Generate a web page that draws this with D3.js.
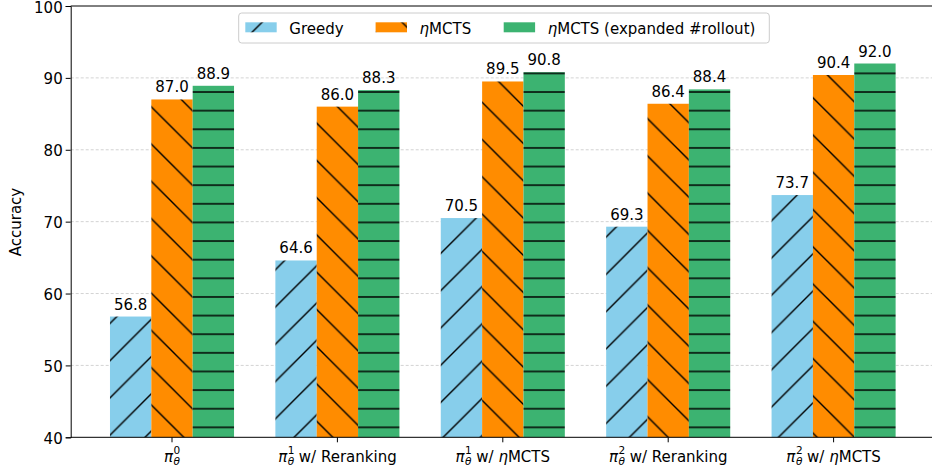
<!DOCTYPE html>
<html>
<head>
<meta charset="utf-8">
<script src="https://cdn.jsdelivr.net/npm/d3@7"></script>
<style>
  body { margin: 0; background: #fff; }
  svg { font-family: "DejaVu Sans", sans-serif; }
</style>
</head>
<body>
<script>
// data
var groups = ["g0", "g1r", "g1m", "g2r", "g2m"];
// tick label pieces: superscript, suffix (with η marks italic)
var tickSup = ["0", "1", "1", "2", "2"];
var tickRest = ["", " w/ Reranking", " w/ |η|MCTS", " w/ Reranking", " w/ |η|MCTS"];
var seriesNames = ["Greedy", "ηMCTS", "ηMCTS (expanded #rollout)"];
var greedy = [56.8, 64.6, 70.5, 69.3, 73.7];
var mcts = [87.0, 86.0, 89.5, 86.4, 90.4];
var mctsExp = [88.9, 88.3, 90.8, 88.4, 92.0];
var yTicks = [40, 50, 60, 70, 80, 90, 100];

var w = 932, h = 469;
var colors = ["#87CEEB", "#FF8C00", "#3CB371"];
var hatchP = 37.26, hatchH = 18.63;

var svg = d3.select("body").append("svg").attr("width", w).attr("height", h);

// hatch patterns, anchored in page space like matplotlib does
var defs = svg.append("defs");
var p0 = defs.append("pattern").attr("id", "hatch0").attr("patternUnits", "userSpaceOnUse")
  .attr("x", 23.5).attr("y", 0).attr("width", hatchP).attr("height", hatchP);
p0.append("rect").attr("width", hatchP).attr("height", hatchP).attr("fill", colors[0]);
p0.append("path").attr("d", "M0," + hatchP + "L" + hatchP + ",0M-2,2L2,-2M" + (hatchP - 2) + "," + (hatchP + 2) + "L" + (hatchP + 2) + "," + (hatchP - 2))
  .attr("stroke", "#000").attr("stroke-width", 1.4);

var p1 = defs.append("pattern").attr("id", "hatch1").attr("patternUnits", "userSpaceOnUse")
  .attr("x", 7.26).attr("y", 0).attr("width", hatchP).attr("height", hatchP);
p1.append("rect").attr("width", hatchP).attr("height", hatchP).attr("fill", colors[1]);
p1.append("path").attr("d", "M0,0L" + hatchP + "," + hatchP + "M" + (hatchP - 2) + ",-2L" + (hatchP + 2) + ",2M-2," + (hatchP - 2) + "L2," + (hatchP + 2))
  .attr("stroke", "#000").attr("stroke-width", 1.4);

var p2 = defs.append("pattern").attr("id", "hatch2").attr("patternUnits", "userSpaceOnUse")
  .attr("x", 0).attr("y", 17.5).attr("width", 20).attr("height", hatchH);
p2.append("rect").attr("width", 20).attr("height", hatchH).attr("fill", colors[2]);
p2.append("path").attr("d", "M-1,0H21M-1," + hatchH + "H21").attr("stroke", "#000").attr("stroke-width", 1.4);

// scales
var x0 = d3.scaleBand().domain(groups).range([70.7, 934.9]).paddingInner(0.25).paddingOuter(0.2375);
var x1 = d3.scaleBand().domain([0, 1, 2]).range([0, x0.bandwidth()]);
var y = d3.scaleLinear().domain([40, 100]).range([437.3, 6]);

// grid
svg.append("g").selectAll("line").data(yTicks.slice(1, -1)).enter().append("line")
  .attr("x1", 70.7).attr("x2", 934.9)
  .attr("y1", function(d) { return y(d); }).attr("y2", function(d) { return y(d); })
  .attr("stroke", "#b0b0b0").attr("stroke-opacity", 0.7).attr("stroke-width", 0.8)
  .attr("stroke-dasharray", "3,2");

// bars
var allSeries = [greedy, mcts, mctsExp];
allSeries.forEach(function(vals, si) {
  var g = svg.append("g").attr("class", "series" + si);
  g.selectAll("rect").data(vals).enter().append("rect")
    .attr("x", function(d, i) { return x0(groups[i]) + x1(si); })
    .attr("y", function(d) { return y(d); })
    .attr("width", x1.bandwidth())
    .attr("height", function(d) { return y(40) - y(d); })
    .attr("fill", "url(#hatch" + si + ")");
  g.selectAll("text").data(vals).enter().append("text")
    .attr("x", function(d, i) { return x0(groups[i]) + x1(si) + x1.bandwidth() / 2; })
    .attr("y", function(d) { return y(d) - 7; })
    .attr("text-anchor", "middle").attr("font-size", 15).attr("fill", "#000")
    .text(function(d) { return d.toFixed(1); });
});

// axes
var yAxis = d3.axisLeft(y).tickValues(yTicks).tickSize(5).tickPadding(3);
var ya = svg.append("g").attr("transform", "translate(70.7,0)").call(yAxis);
ya.selectAll("text").attr("font-size", 15).attr("font-family", "DejaVu Sans").attr("fill", "#000").attr("dy", "0.4em");

var xAxis = d3.axisBottom(x0).tickSize(5).tickFormat("");
var xa = svg.append("g").attr("transform", "translate(0,437.3)").call(xAxis);
xa.select(".domain").remove();
svg.selectAll(".domain").attr("stroke-width", 1);
svg.selectAll(".tick line").attr("stroke", "#000").attr("stroke-width", 1);

// spines
svg.append("line").attr("x1", 70.7).attr("x2", 934.9).attr("y1", 437.3).attr("y2", 437.3).attr("stroke", "#000");
svg.append("line").attr("x1", 70.7).attr("x2", 934.9).attr("y1", 6).attr("y2", 6).attr("stroke", "#000");
svg.append("line").attr("x1", 934.9).attr("x2", 934.9).attr("y1", 6).attr("y2", 437.3).attr("stroke", "#000");

// x tick labels with math
groups.forEach(function(gname, i) {
  var t = svg.append("text").attr("x", x0(gname) + x0.bandwidth() / 2).attr("y", 462.3)
    .attr("text-anchor", "middle").attr("font-size", 15).attr("fill", "#000");
  t.append("tspan").attr("font-style", "italic").text("π");
  t.append("tspan").attr("font-size", 10.5).attr("dy", -8.5).attr("dx", 0.5).text(tickSup[i]);
  t.append("tspan").attr("font-size", 10.5).attr("font-style", "italic").attr("dy", 11).attr("dx", -6.7).text("θ");
  var parts = tickRest[i].split("|");
  parts.forEach(function(p, k) {
    var s = t.append("tspan").text(p);
    if (k === 0) s.attr("dy", -2.5);
    if (k === 1) s.attr("font-style", "italic");
  });
});

// y label
svg.append("text").attr("transform", "translate(21,222) rotate(-90)")
  .attr("text-anchor", "middle").attr("font-size", 15).attr("fill", "#000").text("Accuracy");

// legend
var leg = svg.append("g");
leg.append("rect").attr("x", 238.7).attr("y", 13).attr("width", 530.6).attr("height", 30)
  .attr("rx", 3).attr("fill", "#fff").attr("fill-opacity", 0.8).attr("stroke", "#ccc");
var legX = [245.3, 375.6, 503.7];
seriesNames.forEach(function(name, i) {
  leg.append("rect").attr("x", legX[i]).attr("y", 22.3).attr("width", 31.4).attr("height", 10)
    .attr("fill", "url(#hatch" + i + ")");
  var t = leg.append("text").attr("x", legX[i] + 44).attr("y", 34).attr("font-size", 15).attr("fill", "#000");
  if (i === 0) { t.text(name); }
  else {
    t.append("tspan").attr("font-style", "italic").text("η");
    t.append("tspan").text(name.slice(1));
  }
});
</script>
</body>
</html>
